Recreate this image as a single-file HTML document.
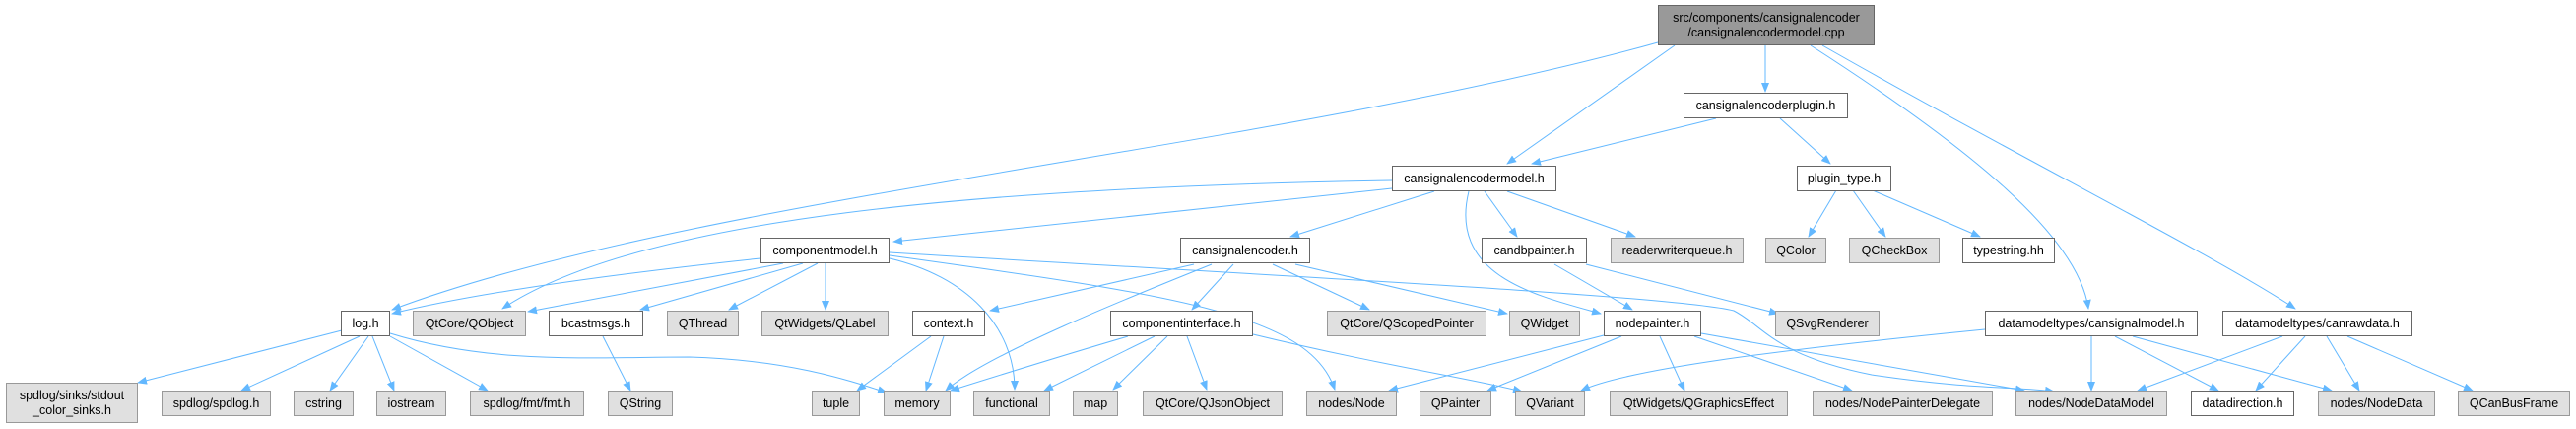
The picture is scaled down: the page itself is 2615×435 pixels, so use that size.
<!DOCTYPE html>
<html><head><meta charset="utf-8">
<style>
html,body{margin:0;padding:0;background:#fff;}
#c{position:relative;width:2615px;height:435px;overflow:hidden;font-family:"Liberation Sans",Arial,sans-serif;}
svg{position:absolute;left:0;top:0;}
.n{position:absolute;box-sizing:border-box;border:1px solid #666;background:#fff;font-size:12.5px;color:#000;text-align:center;display:flex;align-items:center;justify-content:center;line-height:15px;white-space:nowrap;}
.g{background:#e0e0e0;border-color:#999;}
.r{background:#999;border-color:#666;}
</style></head><body><div id="c">
<svg width="2615" height="435" viewBox="0 0 2615 435">
<defs><marker id="a" markerWidth="10" markerHeight="8" refX="9" refY="4" orient="auto" markerUnits="userSpaceOnUse"><path d="M0,0 L10,4 L0,8 z" fill="#63b8ff"/></marker></defs>
<g fill="none" stroke="#63b8ff" stroke-width="1" marker-end="url(#a)">
<path d="M1683,43 C1300,150 700,200 398,314"/>
<path d="M1700,46 L1530,166"/>
<path d="M1792,46 L1792,93"/>
<path d="M1838,46 C2000,150 2110,240 2120,313"/>
<path d="M1850,46 C2050,160 2250,260 2330,313"/>
<path d="M1742,120 L1555,166"/>
<path d="M1807,120 L1858,166"/>
<path d="M1864,193 L1836,240"/>
<path d="M1881,193 L1914,240"/>
<path d="M1901,193 L2010,240"/>
<path d="M1413,183 C1000,190 650,220 510,313"/>
<path d="M1413,191 L907,245"/>
<path d="M1456,194 L1310,240"/>
<path d="M1507,194 L1540,240"/>
<path d="M1530,194 L1660,240"/>
<path d="M1491,194 C1470,280 1560,300 1625,318"/>
<path d="M772,262 C600,280 470,300 398,318"/>
<path d="M795,267 L536,316"/>
<path d="M815,267 L650,314"/>
<path d="M830,267 L740,314"/>
<path d="M838,267 L838,314"/>
<path d="M903,262 C980,280 1030,330 1030,395"/>
<path d="M903,259 C1200,300 1330,320 1355,395"/>
<path d="M903,256 C1300,280 1700,300 1760,315 C1790,330 1800,360 1900,380 C2000,395 2050,392 2085,397"/>
<path d="M1212,268 L1005,315"/>
<path d="M1230,268 C1150,300 1000,360 960,396"/>
<path d="M1252,268 L1210,314"/>
<path d="M1292,268 L1390,314"/>
<path d="M1315,268 L1530,318"/>
<path d="M1578,268 L1657,314"/>
<path d="M1610,268 L1805,318"/>
<path d="M945,341 L870,396"/>
<path d="M958,341 L940,396"/>
<path d="M1145,341 C1080,360 1000,385 965,396"/>
<path d="M1172,341 L1060,396"/>
<path d="M1185,341 L1130,395"/>
<path d="M1205,341 L1225,395"/>
<path d="M1272,339 C1400,370 1500,385 1545,397"/>
<path d="M347,335 L140,388"/>
<path d="M365,341 L245,396"/>
<path d="M374,341 L335,396"/>
<path d="M378,341 L400,396"/>
<path d="M396,341 L495,396"/>
<path d="M396,338 C500,370 600,362 700,362 C800,365 860,385 900,398"/>
<path d="M612,341 L640,396"/>
<path d="M1628,340 L1410,396"/>
<path d="M1646,341 L1510,396"/>
<path d="M1685,341 L1710,396"/>
<path d="M1720,341 L1880,396"/>
<path d="M1727,338 L2055,396"/>
<path d="M2015,334 C1800,355 1650,375 1605,396"/>
<path d="M2123,341 L2123,396"/>
<path d="M2147,341 L2252,396"/>
<path d="M2165,341 L2367,396"/>
<path d="M2317,341 L2170,396"/>
<path d="M2340,341 L2290,396"/>
<path d="M2362,341 L2395,396"/>
<path d="M2383,341 L2510,396"/>
</g></svg>
<div class="n r" style="left:1683px;top:5px;width:220px;height:41px;">src/components/cansignalencoder<br>/cansignalencodermodel.cpp</div>
<div class="n" style="left:1709px;top:94px;width:167px;height:26px;">cansignalencoderplugin.h</div>
<div class="n" style="left:1413px;top:168px;width:167px;height:26px;">cansignalencodermodel.h</div>
<div class="n" style="left:1824px;top:168px;width:96px;height:26px;">plugin_type.h</div>
<div class="n" style="left:772px;top:241px;width:131px;height:26px;">componentmodel.h</div>
<div class="n" style="left:1198px;top:241px;width:132px;height:26px;">cansignalencoder.h</div>
<div class="n" style="left:1504px;top:241px;width:107px;height:26px;">candbpainter.h</div>
<div class="n g" style="left:1635px;top:241px;width:135px;height:26px;">readerwriterqueue.h</div>
<div class="n g" style="left:1792px;top:241px;width:62px;height:26px;">QColor</div>
<div class="n g" style="left:1877px;top:241px;width:92px;height:26px;">QCheckBox</div>
<div class="n" style="left:1992px;top:241px;width:94px;height:26px;">typestring.hh</div>
<div class="n" style="left:346px;top:315px;width:50px;height:26px;">log.h</div>
<div class="n g" style="left:419px;top:315px;width:115px;height:26px;">QtCore/QObject</div>
<div class="n" style="left:557px;top:315px;width:96px;height:26px;">bcastmsgs.h</div>
<div class="n g" style="left:677px;top:315px;width:73px;height:26px;">QThread</div>
<div class="n g" style="left:773px;top:315px;width:129px;height:26px;">QtWidgets/QLabel</div>
<div class="n" style="left:926px;top:315px;width:74px;height:26px;">context.h</div>
<div class="n" style="left:1127px;top:315px;width:145px;height:26px;">componentinterface.h</div>
<div class="n g" style="left:1347px;top:315px;width:162px;height:26px;">QtCore/QScopedPointer</div>
<div class="n g" style="left:1532px;top:315px;width:72px;height:26px;">QWidget</div>
<div class="n" style="left:1628px;top:315px;width:99px;height:26px;">nodepainter.h</div>
<div class="n g" style="left:1802px;top:315px;width:106px;height:26px;">QSvgRenderer</div>
<div class="n" style="left:2015px;top:315px;width:216px;height:26px;">datamodeltypes/cansignalmodel.h</div>
<div class="n" style="left:2256px;top:315px;width:193px;height:26px;">datamodeltypes/canrawdata.h</div>
<div class="n g" style="left:6px;top:388px;width:134px;height:41px;">spdlog/sinks/stdout<br>_color_sinks.h</div>
<div class="n g" style="left:164px;top:396px;width:111px;height:26px;">spdlog/spdlog.h</div>
<div class="n g" style="left:298px;top:396px;width:61px;height:26px;">cstring</div>
<div class="n g" style="left:382px;top:396px;width:71px;height:26px;">iostream</div>
<div class="n g" style="left:477px;top:396px;width:116px;height:26px;">spdlog/fmt/fmt.h</div>
<div class="n g" style="left:617px;top:396px;width:66px;height:26px;">QString</div>
<div class="n g" style="left:824px;top:396px;width:49px;height:26px;">tuple</div>
<div class="n g" style="left:897px;top:396px;width:68px;height:26px;">memory</div>
<div class="n g" style="left:988px;top:396px;width:78px;height:26px;">functional</div>
<div class="n g" style="left:1089px;top:396px;width:46px;height:26px;">map</div>
<div class="n g" style="left:1160px;top:396px;width:142px;height:26px;">QtCore/QJsonObject</div>
<div class="n g" style="left:1326px;top:396px;width:92px;height:26px;">nodes/Node</div>
<div class="n g" style="left:1441px;top:396px;width:73px;height:26px;">QPainter</div>
<div class="n g" style="left:1538px;top:396px;width:71px;height:26px;">QVariant</div>
<div class="n g" style="left:1634px;top:396px;width:181px;height:26px;">QtWidgets/QGraphicsEffect</div>
<div class="n g" style="left:1840px;top:396px;width:183px;height:26px;">nodes/NodePainterDelegate</div>
<div class="n g" style="left:2046px;top:396px;width:154px;height:26px;">nodes/NodeDataModel</div>
<div class="n" style="left:2224px;top:396px;width:105px;height:26px;">datadirection.h</div>
<div class="n g" style="left:2353px;top:396px;width:119px;height:26px;">nodes/NodeData</div>
<div class="n g" style="left:2495px;top:396px;width:114px;height:26px;">QCanBusFrame</div>
</div></body></html>
